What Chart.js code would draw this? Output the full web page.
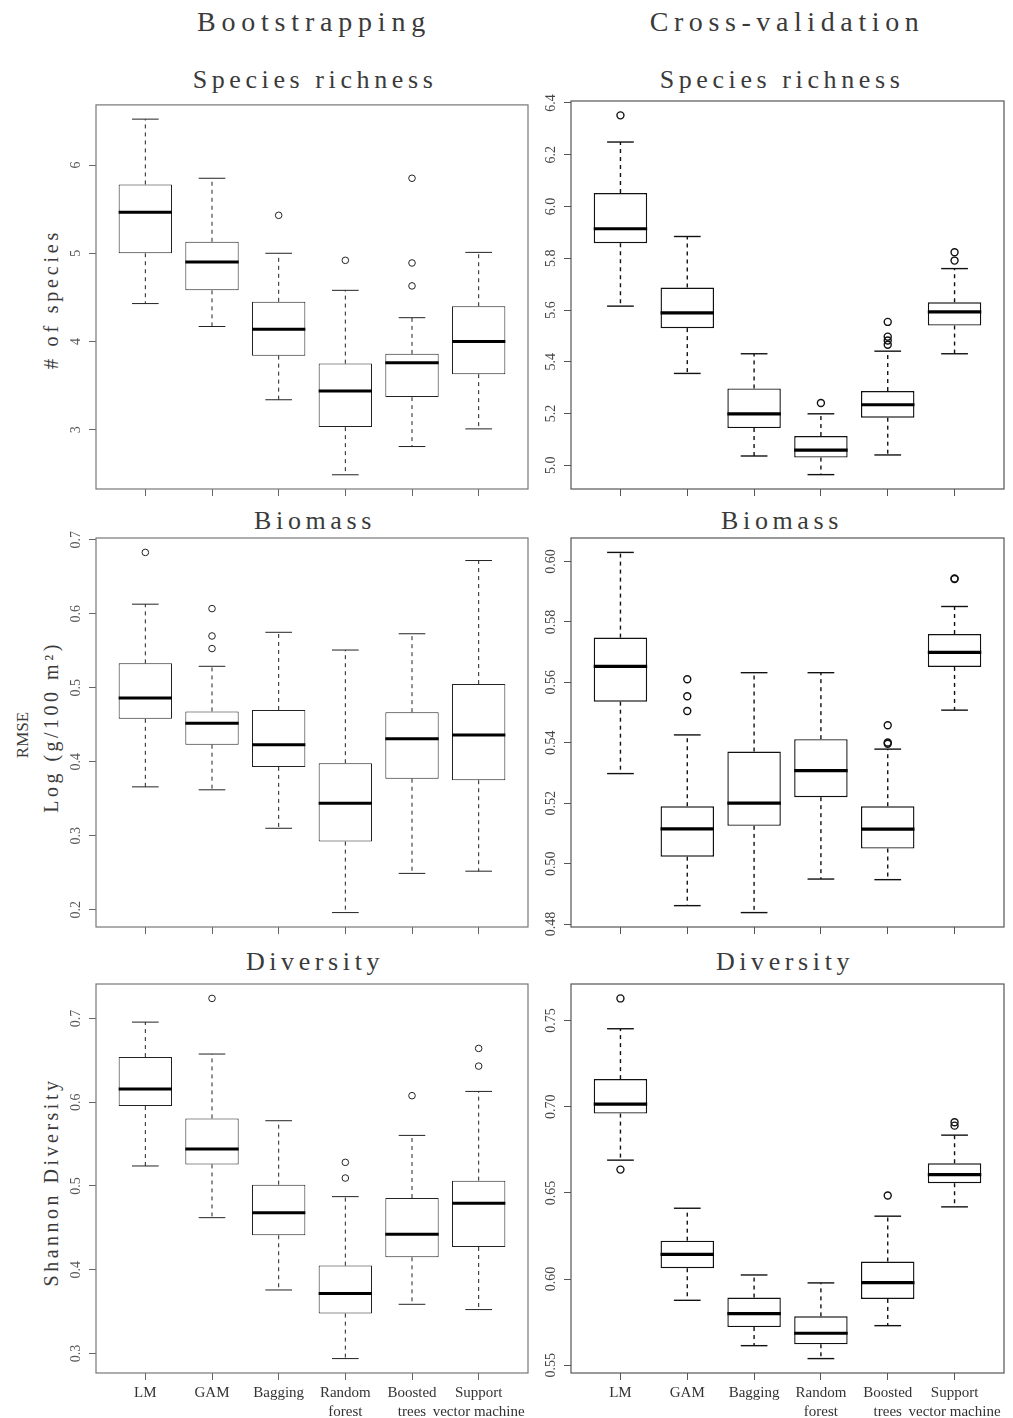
<!DOCTYPE html>
<html>
<head>
<meta charset="utf-8">
<script src="https://cdn.jsdelivr.net/npm/chart.js@4.4.1/dist/chart.umd.min.js"></script>
<style>
  body { margin: 0; background: #fff; }
  #page { position: relative; width: 1013px; height: 1418px; overflow: hidden; background: #fff; }
  canvas { position: absolute; }
  .t { position: absolute; white-space: nowrap; font-family: 'Liberation Serif', serif; color: #3a3a3a; line-height: 1; transform: translate(-50%, -50%); }
  .v { transform: translate(-50%, -50%) rotate(-90deg); }
</style>
</head>
<body>
<div id="page">
  <div class="t" style="left:314px;top:22px;font-size:28px;letter-spacing:5.8px">Bootstrapping</div>
  <div class="t" style="left:787px;top:22px;font-size:28px;letter-spacing:5.6px">Cross-validation</div>

  <div class="t" style="left:315px;top:80px;font-size:26px;letter-spacing:4.6px">Species richness</div>
  <div class="t" style="left:782px;top:80px;font-size:26px;letter-spacing:4.6px">Species richness</div>
  <div class="t" style="left:315px;top:521px;font-size:26px;letter-spacing:4.6px">Biomass</div>
  <div class="t" style="left:782px;top:521px;font-size:26px;letter-spacing:4.6px">Biomass</div>
  <div class="t" style="left:315px;top:962px;font-size:26px;letter-spacing:4.6px">Diversity</div>
  <div class="t" style="left:785px;top:962px;font-size:26px;letter-spacing:4.6px">Diversity</div>

  <div class="t v" style="left:51px;top:299px;font-size:20px;letter-spacing:3.8px"># of species</div>
  <div class="t v" style="left:22px;top:735px;font-size:17px">RMSE</div>
  <div class="t v" style="left:51px;top:727px;font-size:20px;letter-spacing:3.5px">Log (g/100 m²)</div>
  <div class="t v" style="left:51px;top:1182px;font-size:20px;letter-spacing:3.5px">Shannon Diversity</div>
</div>
<script>
var categories = ['LM', 'GAM', 'Bagging', ['Random', 'forest'], ['Boosted', 'trees'], ['Support', 'vector machine']];

// bootstrapping - species richness
var bsRichLow  = [4.43, 4.17, 3.34, 2.49, 2.81, 3.01];
var bsRichQ1   = [5.00, 4.58, 3.84, 3.03, 3.37, 3.63];
var bsRichMed  = [5.465, 4.90, 4.14, 3.44, 3.76, 4.00];
var bsRichQ3   = [5.78, 5.13, 4.45, 3.75, 3.86, 4.40];
var bsRichHigh = [6.52, 5.85, 5.00, 4.58, 4.27, 5.01];
var bsRichOut  = [[], [], [5.43], [4.92], [5.85, 4.89, 4.63], []];
var bsRichTicks = [3, 4, 5, 6];

// cross-validation - species richness
var cvRichLow  = [5.615, 5.355, 5.036, 4.964, 5.040, 5.431];
var cvRichQ1   = [5.858, 5.530, 5.144, 5.030, 5.184, 5.540];
var cvRichMed  = [5.914, 5.589, 5.199, 5.059, 5.234, 5.593];
var cvRichQ3   = [6.052, 5.687, 5.297, 5.113, 5.287, 5.630];
var cvRichHigh = [6.249, 5.884, 5.431, 5.199, 5.441, 5.760];
var cvRichOut  = [[6.352], [], [], [5.241], [5.554, 5.497, 5.482, 5.466], [5.823, 5.791]];
var cvRichTicks = [5.0, 5.2, 5.4, 5.6, 5.8, 6.0, 6.2, 6.4];

// bootstrapping - biomass
var bsBioLow  = [0.366, 0.362, 0.310, 0.196, 0.249, 0.252];
var bsBioQ1   = [0.458, 0.423, 0.393, 0.292, 0.377, 0.375];
var bsBioMed  = [0.486, 0.452, 0.423, 0.344, 0.431, 0.436];
var bsBioQ3   = [0.533, 0.468, 0.470, 0.398, 0.467, 0.505];
var bsBioHigh = [0.613, 0.529, 0.575, 0.551, 0.573, 0.672];
var bsBioOut  = [[0.683], [0.607, 0.570, 0.553], [], [], [], []];
var bsBioTicks = [0.2, 0.3, 0.4, 0.5, 0.6, 0.7];

// cross-validation - biomass
var cvBioLow  = [0.5298, 0.4861, 0.4838, 0.4949, 0.4947, 0.5508];
var cvBioQ1   = [0.5536, 0.5023, 0.5125, 0.5220, 0.5050, 0.5651];
var cvBioMed  = [0.5653, 0.5115, 0.5200, 0.5308, 0.5114, 0.5699];
var cvBioQ3   = [0.5748, 0.5190, 0.5371, 0.5412, 0.5190, 0.5760];
var cvBioHigh = [0.6030, 0.5426, 0.5632, 0.5632, 0.5379, 0.5851];
var cvBioOut  = [[], [0.5610, 0.5554, 0.5505], [], [], [0.5458, 0.5401, 0.5397], [0.5942, 0.5944]];
var cvBioTicks = [0.48, 0.50, 0.52, 0.54, 0.56, 0.58, 0.60];

// bootstrapping - diversity
var bsDivLow  = [0.5239, 0.4622, 0.3759, 0.2940, 0.3588, 0.3525];
var bsDivQ1   = [0.5954, 0.5258, 0.4412, 0.3477, 0.4149, 0.4272];
var bsDivMed  = [0.6157, 0.5441, 0.4682, 0.3716, 0.4423, 0.4793];
var bsDivQ3   = [0.6539, 0.5807, 0.5016, 0.4050, 0.4857, 0.5064];
var bsDivHigh = [0.6956, 0.6575, 0.5779, 0.4873, 0.5604, 0.6129];
var bsDivOut  = [[], [0.7239], [], [0.5282, 0.5095], [0.6078], [0.6642, 0.6431]];
var bsDivTicks = [0.3, 0.4, 0.5, 0.6, 0.7];

// cross-validation - diversity
var cvDivLow  = [0.6690, 0.5877, 0.5614, 0.5539, 0.5730, 0.6419];
var cvDivQ1   = [0.6960, 0.6063, 0.5722, 0.5622, 0.5885, 0.6556];
var cvDivMed  = [0.7015, 0.6144, 0.5800, 0.5686, 0.5980, 0.6606];
var cvDivQ3   = [0.7160, 0.6223, 0.5893, 0.5784, 0.6102, 0.6672];
var cvDivHigh = [0.7452, 0.6411, 0.6024, 0.5978, 0.6365, 0.6835];
var cvDivOut  = [[0.7628, 0.6635], [], [], [], [0.6485], [0.6910, 0.6890]];
var cvDivTicks = [0.55, 0.60, 0.65, 0.70, 0.75];

var FONT = "'Liberation Serif', serif";

// styles for the two columns
var leftStyle  = { ink: '#222', lw: 1, med: 3, frame: '#777', axis: '#666', tickColor: '#555', tickSize: 14, r: 3.3 };
var rightStyle = { ink: '#111', lw: 1.4, med: 3.2, frame: '#555', axis: '#555', tickColor: '#444', tickSize: 14, r: 3.5 };

var panels = [
  { box: [96, 101, 528, 489],   st: leftStyle,  low: bsRichLow, q1: bsRichQ1, med: bsRichMed, q3: bsRichQ3, high: bsRichHigh, out: bsRichOut, ticks: bsRichTicks, digits: 0, showX: false },
  { box: [571, 101, 1004, 489], st: rightStyle, low: cvRichLow, q1: cvRichQ1, med: cvRichMed, q3: cvRichQ3, high: cvRichHigh, out: cvRichOut, ticks: cvRichTicks, digits: 1, showX: false },
  { box: [96, 538, 528, 927],   st: leftStyle,  low: bsBioLow, q1: bsBioQ1, med: bsBioMed, q3: bsBioQ3, high: bsBioHigh, out: bsBioOut, ticks: bsBioTicks, digits: 1, showX: false },
  { box: [571, 538, 1004, 927], st: rightStyle, low: cvBioLow, q1: cvBioQ1, med: cvBioMed, q3: cvBioQ3, high: cvBioHigh, out: cvBioOut, ticks: cvBioTicks, digits: 2, showX: false },
  { box: [96, 984, 528, 1373],  st: leftStyle,  low: bsDivLow, q1: bsDivQ1, med: bsDivMed, q3: bsDivQ3, high: bsDivHigh, out: bsDivOut, ticks: bsDivTicks, digits: 1, showX: true },
  { box: [571, 984, 1004, 1373], st: rightStyle, low: cvDivLow, q1: cvDivQ1, med: cvDivMed, q3: cvDivQ3, high: cvDivHigh, out: cvDivOut, ticks: cvDivTicks, digits: 2, showX: true }
];

var mctx = document.createElement('canvas').getContext('2d');
function textWidth(s, size) {
  mctx.font = size + 'px ' + FONT;
  return mctx.measureText(s).width;
}

// whiskers, staples, medians and the frame, all placed with the chart's scales
function boxParts(p) {
  function line(ctx, x1, y1, x2, y2) {
    ctx.beginPath(); ctx.moveTo(x1, y1); ctx.lineTo(x2, y2); ctx.stroke();
  }
  return {
    id: 'boxParts',
    beforeDatasetsDraw: function(chart) {
      var ctx = chart.ctx, y = chart.scales.y;
      var bars = chart.getDatasetMeta(0).data;
      ctx.save();
      ctx.strokeStyle = p.st.ink;
      ctx.lineWidth = p.st.lw;
      bars.forEach(function(bar, i) {
        var b = bar.getProps(['x', 'width'], true);
        var half = b.width / 4;
        var yLow = y.getPixelForValue(p.low[i]), yHigh = y.getPixelForValue(p.high[i]);
        var yQ1 = y.getPixelForValue(p.q1[i]), yQ3 = y.getPixelForValue(p.q3[i]);
        ctx.setLineDash([4, 4]);
        line(ctx, b.x, yQ3, b.x, yHigh);
        line(ctx, b.x, yQ1, b.x, yLow);
        ctx.setLineDash([]);
        line(ctx, b.x - half, yHigh, b.x + half, yHigh);
        line(ctx, b.x - half, yLow, b.x + half, yLow);
      });
      ctx.restore();
    },
    afterDatasetsDraw: function(chart) {
      var ctx = chart.ctx, y = chart.scales.y;
      var bars = chart.getDatasetMeta(0).data;
      ctx.save();
      ctx.strokeStyle = '#000';
      ctx.lineWidth = p.st.med;
      bars.forEach(function(bar, i) {
        var b = bar.getProps(['x', 'width'], true);
        var ym = y.getPixelForValue(p.med[i]);
        line(ctx, b.x - b.width / 2, ym, b.x + b.width / 2, ym);
      });
      var a = chart.chartArea;
      ctx.strokeStyle = p.st.frame;
      ctx.lineWidth = 1.2;
      ctx.strokeRect(a.left, a.top, a.right - a.left, a.bottom - a.top);
      ctx.restore();
    }
  };
}

function drawPanel(p) {
  var padL = 70, padT = 14, padR = 14, padB = 52;
  var w = p.box[2] - p.box[0], h = p.box[3] - p.box[1];
  var cv = document.createElement('canvas');
  cv.width = w + padL + padR;
  cv.height = h + padT + padB;
  cv.style.left = (p.box[0] - padL) + 'px';
  cv.style.top = (p.box[1] - padT) + 'px';
  document.getElementById('page').appendChild(cv);

  var outFlat = [].concat.apply([], p.out);
  var all = p.low.concat(p.high, outFlat);
  var lo = Math.min.apply(null, all), hi = Math.max.apply(null, all);
  var ext = (hi - lo) * 0.04;

  var widest = Math.max.apply(null, p.ticks.map(function(v) { return textWidth(v.toFixed(p.digits), p.st.tickSize); }));

  var outliers = [];
  p.out.forEach(function(list, i) {
    list.forEach(function(v) { outliers.push({ x: i + 1, y: v }); });
  });

  new Chart(cv, {
    type: 'bar',
    data: {
      datasets: [
        {
          data: p.q1.map(function(v, i) { return { x: i + 1, y: [v, p.q3[i]] }; }),
          backgroundColor: '#fff',
          borderColor: p.st.ink,
          borderWidth: p.st.lw,
          borderSkipped: false,
          barPercentage: 0.8,
          categoryPercentage: 1,
          inflateAmount: 0
        },
        {
          type: 'scatter',
          data: outliers,
          pointStyle: 'circle',
          pointRadius: p.st.r,
          borderColor: p.st.ink,
          borderWidth: p.st.lw,
          backgroundColor: 'rgba(0,0,0,0)'
        }
      ]
    },
    options: {
      responsive: false,
      animation: false,
      events: [],
      layout: { padding: { top: padT, right: padR, left: 0, bottom: 0 } },
      plugins: { legend: { display: false }, tooltip: { enabled: false } },
      scales: {
        x: {
          type: 'linear',
          min: 0.26,
          max: 6.74,
          offset: false,
          afterBuildTicks: function(s) { s.ticks = categories.map(function(c, i) { return { value: i + 1 }; }); },
          afterFit: function(s) { s.height = padB; },
          grid: { display: true, drawOnChartArea: false, drawTicks: true, tickLength: 7, color: p.st.axis, offset: false },
          border: { display: false },
          ticks: {
            autoSkip: false, maxRotation: 0, minRotation: 0, padding: 3,
            color: '#333',
            font: { family: FONT, size: 15, lineHeight: 1.3 },
            callback: function(v) { return p.showX ? categories[v - 1] : ''; }
          }
        },
        y: {
          type: 'linear',
          min: lo - ext,
          max: hi + ext,
          afterBuildTicks: function(s) { s.ticks = p.ticks.map(function(v) { return { value: v }; }); },
          afterFit: function(s) { s.width = padL; },
          grid: { display: true, drawOnChartArea: false, drawTicks: true, tickLength: 7, color: p.st.axis },
          border: { display: false },
          ticks: {
            autoSkip: false, minRotation: 90, maxRotation: 90, crossAlign: 'center',
            padding: 20 - 7 - widest / 2,
            color: p.st.tickColor,
            font: { family: FONT, size: p.st.tickSize },
            callback: function(v) { return Number(v).toFixed(p.digits); }
          }
        }
      }
    },
    plugins: [boxParts(p)]
  });
}

panels.forEach(drawPanel);
</script>
</body>
</html>
